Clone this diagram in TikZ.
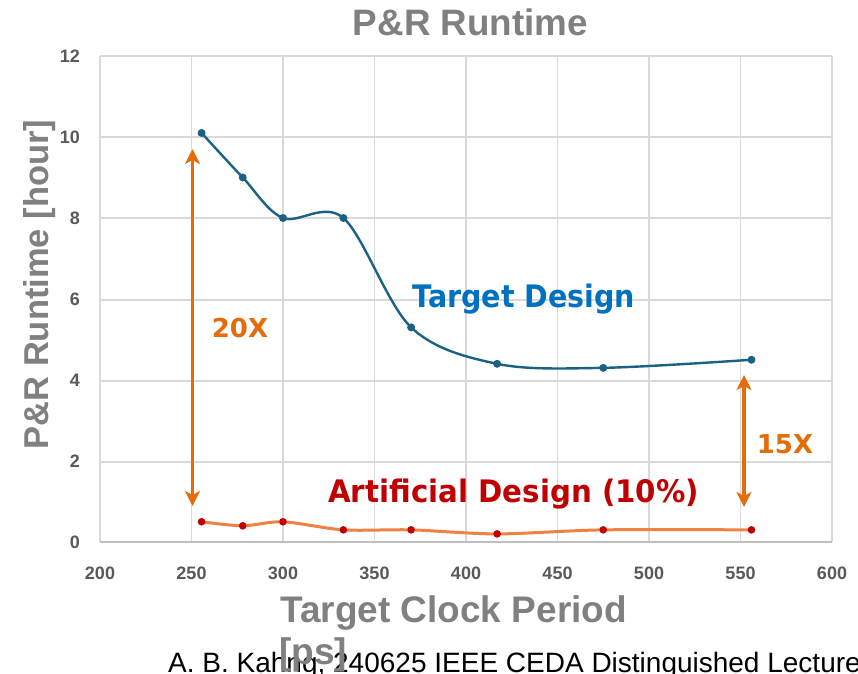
\documentclass[tikz,border=0pt]{standalone}
\usepackage{fontspec}
\setmainfont{Liberation Sans}
\newfontfamily\dvfont{DejaVu Sans}
\usetikzlibrary{arrows.meta}
\definecolor{gridc}{HTML}{D9D9D9}
\definecolor{axisc}{HTML}{BFBFBF}
\definecolor{tickc}{HTML}{595959}
\definecolor{titlec}{HTML}{808080}
\definecolor{bluel}{HTML}{1B6184}
\definecolor{orangel}{HTML}{EE8244}
\definecolor{reddot}{HTML}{C00000}
\definecolor{arrowc}{HTML}{E46C0A}
\definecolor{targetc}{HTML}{0070C0}
\definecolor{artc}{HTML}{C00000}
\begin{document}
\begin{tikzpicture}[x=1pt,y=-1pt,
  gridline/.style={draw=gridc, line width=1.3pt},
  axisline/.style={draw=axisc, line width=1.5pt},
  xtick/.style={anchor=base, inner sep=0pt, text=tickc, font=\fontsize{18}{20}\selectfont\bfseries},
  ytick/.style={anchor=east, inner sep=0pt, text=tickc, font=\fontsize{18}{20}\selectfont\bfseries},
  axtitle/.style={inner sep=0pt, text=titlec, font=\fontsize{37}{40}\selectfont\bfseries},
  blueline/.style={draw=bluel, line width=2.4pt},
  orangeline/.style={draw=orangel, line width=3pt},
  arr/.style={draw=arrowc, line width=3.8pt, {Stealth[length=15pt,width=15pt,inset=4pt]}-{Stealth[length=15pt,width=15pt,inset=4pt]}},
  ratio/.style={anchor=base, inner sep=0pt, text=arrowc, font=\fontsize{26}{30}\selectfont\dvfont\bfseries},
  serieslbl/.style={anchor=base west, inner sep=0pt, font=\fontsize{31}{36}\selectfont\dvfont\bfseries}
]
\useasboundingbox (0,0) rectangle (858,673);
% grid
\foreach \gx in {100,191.5,283,374.5,466,557.5,649,740.5,832}
  \draw[gridline] (\gx,56) -- (\gx,542);
\foreach \gy in {56,137,218,300,381,462}
  \draw[gridline] (100,\gy) -- (832,\gy);
\draw[axisline] (100,542) -- (832,542);
% tick labels
\foreach \v in {200,250,...,600}
  \node[xtick] (xt\v) at ({100+(\v-200)*1.83},579) {\v};
\foreach \v in {0,2,...,12}
  \node[ytick] (yt\v) at (80,{542-40.5*\v}) {\v};
% titles
\node[axtitle, anchor=base, font=\fontsize{36.8}{40}\selectfont\bfseries] (title) at (470.5,35) {P\&R Runtime};
\node[axtitle, anchor=base, rotate=90, font=\fontsize{34.5}{40}\selectfont\bfseries] (ytitle) at (48,284.5) {P\&R Runtime [hour]};
% footer
\node[anchor=base west, inner sep=0pt, font=\fontsize{28}{32}\selectfont] (footer) at (168,672) {A. B. Kahng, 240625 IEEE CEDA Distinguished Lecture};
\node[axtitle, anchor=base west] (xtitle) at (280,622) {Target Clock Period};
\node[axtitle, anchor=base west] (xunit) at (279,664) {[ps]};
% data
\begin{scope}[shift={(-266pt,-542pt)}, x=1.83pt, y=40.5pt]
  \coordinate (b1) at (255.5,10.1);
  \coordinate (b2) at (278,9.0);
  \coordinate (b3) at (300,8.0);
  \coordinate (b4) at (333,8.0);
  \coordinate (b5) at (370,5.3);
  \coordinate (b6) at (417,4.4);
  \coordinate (b7) at (475,4.3);
  \coordinate (b8) at (556,4.5);
  \coordinate (r1) at (255.5,0.5);
  \coordinate (r2) at (278,0.4);
  \coordinate (r3) at (300,0.5);
  \coordinate (r4) at (333,0.3);
  \coordinate (r5) at (370,0.3);
  \coordinate (r6) at (417,0.2);
  \coordinate (r7) at (475,0.3);
  \coordinate (r8) at (556,0.3);
  \draw[orangeline] plot[smooth, tension=0.5] coordinates {(r1) (r2) (r3) (r4) (r5) (r6) (r7) (r8)};
  \draw[blueline] plot[smooth, tension=0.55] coordinates {(b1) (b2) (b3) (b4) (b5) (b6) (b7) (b8)};
  \foreach \n in {b1,b2,b3,b4,b5,b6,b7,b8}
    \fill[bluel] (\n) circle (4pt);
  \foreach \n in {r1,r2,r3,r4,r5,r6,r7,r8}
    \fill[reddot] (\n) circle (3.8pt);
\end{scope}
% arrows
\coordinate (a20t) at (192.5,149);
\coordinate (a20b) at (192.5,506);
\coordinate (a15t) at (744,375);
\coordinate (a15b) at (744,507);
\draw[arr] (a20b) -- (a20t);
\draw[arr] (a15b) -- (a15t);
\node[ratio] (r20) at (240,337) {20X};
\node[ratio] (r15) at (785,453) {15X};
% series labels
\node[serieslbl, text=targetc] (tdl) at (412,307) {\scalebox{0.92}[1]{Target Design}};
\node[serieslbl, text=artc] (adl) at (328,502.5) {\scalebox{0.945}[1]{Artificial Design (10\%)}};
\end{tikzpicture}
\end{document}
